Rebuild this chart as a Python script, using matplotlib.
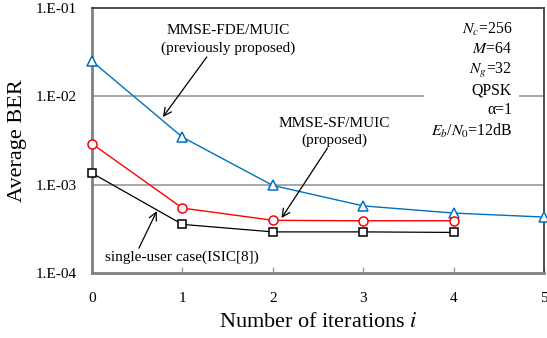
import matplotlib.pyplot as plt
from matplotlib.ticker import FixedLocator, NullLocator

plt.rcParams['font.family'] = ['Liberation Serif', 'DejaVu Serif']
plt.rcParams['mathtext.fontset'] = 'stix'

iterations_fde = [0, 1, 2, 3, 4, 5]
ber_fde = [2.5e-2, 3.45e-3, 9.8e-4, 5.75e-4, 4.77e-4, 4.3e-4]

iterations_sf = [0, 1, 2, 3, 4]
ber_sf = [2.9e-3, 5.43e-4, 3.95e-4, 3.9e-4, 3.9e-4]

iterations_su = [0, 1, 2, 3, 4]
ber_su = [1.35e-3, 3.55e-4, 2.92e-4, 2.92e-4, 2.88e-4]

ytick_vals = [1e-4, 1e-3, 1e-2, 1e-1]
ytick_labels = ['1.E-04', '1.E-03', '1.E-02', '1.E-01']

fig = plt.figure(figsize=(5.47, 3.38), dpi=100)
ax = fig.add_axes([92 / 547, 1 - 273 / 338, 452 / 547, 265 / 338])

ax.set_yscale('log')
ax.set_ylim(1e-4, 1e-1)
ax.set_xlim(0, 5)

# horizontal grid at the inner decades only
for y in ytick_vals[1:3]:
    ax.axhline(y, color='#a0a0a0', lw=1.3, zorder=0)

ax.plot(iterations_fde, ber_fde, color='#0070C0', lw=1, marker='^', ms=6.5,
        mfc='white', mec='#0070C0', mew=1.1, clip_on=False, zorder=3)
ax.plot(iterations_sf, ber_sf, color='red', lw=1, marker='o', ms=6.5,
        mfc='white', mec='red', mew=1.1, clip_on=False, zorder=3)
ax.plot(iterations_su, ber_su, color='black', lw=0.9, marker='s', ms=6,
        mfc='white', mec='black', mew=1.1, clip_on=False, zorder=3)

ax.yaxis.set_major_locator(FixedLocator(ytick_vals))
ax.yaxis.set_minor_locator(NullLocator())
ax.set_yticklabels(ytick_labels)
ax.set_xticks(range(6))
ax.tick_params(axis='x', labelsize=11, direction='in', length=4,
               color='#a0a0a0', width=1, pad=13.5)
ax.tick_params(axis='y', labelsize=11, length=0, pad=11)

for side in ['left', 'bottom']:
    ax.spines[side].set_color('#808080')
    ax.spines[side].set_linewidth(2)
for side in ['top', 'right']:
    ax.spines[side].set_color('#404040')
    ax.spines[side].set_linewidth(1.3)

ax.set_ylabel('Average BER', fontsize=16, labelpad=6)
ax.set_xlabel('Number of iterations $\\mathit{i}$', fontsize=16, labelpad=6)

# labels and their pointer arrows
arrow = dict(arrowstyle='->', color='black', lw=0.9, shrinkA=0, shrinkB=0,
             mutation_scale=14)
ax.text(1.51, 4.4e-2, 'MMSE-FDE/MUIC\n(previously proposed)', ha='center',
        va='center', fontsize=11, linespacing=1.35)
ax.annotate('', xy=(0.784, 5.83e-3), xytext=(1.27, 2.79e-2), arrowprops=arrow)

ax.text(2.68, 3.94e-3, 'MMSE-SF/MUIC\n(proposed)', ha='center', va='center',
        fontsize=11, linespacing=1.35)
ax.annotate('', xy=(2.097, 4.19e-4), xytext=(2.605, 2.6e-3), arrowprops=arrow)

ax.text(0.143, 1.51e-4, 'single-user case(ISIC[8])', ha='left', va='center',
        fontsize=11)
ax.annotate('', xy=(0.717, 5.02e-4), xytext=(0.519, 1.91e-4), arrowprops=arrow)

params = ('$N_c$=256\n$M$=64\n$N_g$=32\nQPSK\n\u03b1=1\n$E_b$/$N_0$=12dB')
ax.text(4.647, 7.1e-2, params, ha='right', va='top', fontsize=11.3,
        linespacing=1.26, zorder=4,
        bbox=dict(facecolor='white', edgecolor='none', pad=5))

fig.savefig('out.png', dpi=100)
